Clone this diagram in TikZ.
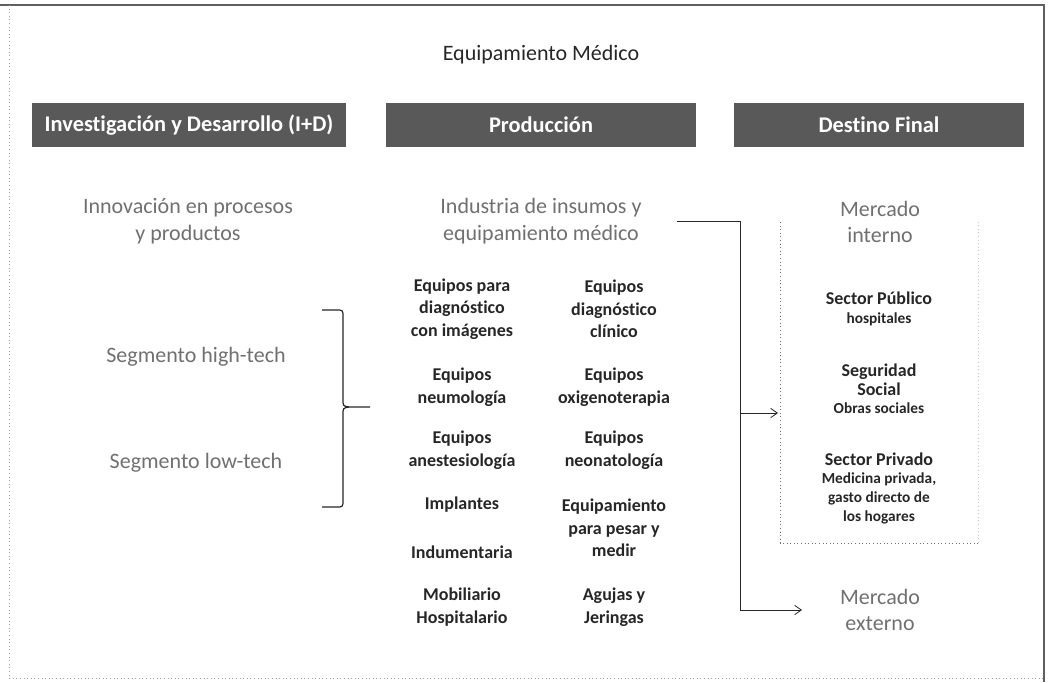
\documentclass[tikz,border=0pt]{standalone}
\usepackage{fontspec}
\setmainfont[Ligatures={NoCommon}]{Carlito}
\usetikzlibrary{arrows.meta, positioning}
\definecolor{barfill}{RGB}{89, 89, 89}
\definecolor{softgray}{RGB}{112, 112, 112}
\definecolor{inkdark}{RGB}{38, 38, 38}
\definecolor{framegray}{RGB}{95, 95, 95}

\begin{document}
\begin{tikzpicture}[x=0.75pt, y=-0.75pt,
  headbar/.style={fill=barfill, text=white, font=\fontsize{16.8}{19}\selectfont\bfseries, minimum height=33pt, inner sep=0pt},
  softtext/.style={text=softgray, font=\fontsize{16.5}{20}\selectfont, align=center},
  itemtext/.style={text=inkdark, font=\fontsize{13.5}{17}\selectfont\bfseries, align=center},
  sectortext/.style={text=inkdark, font=\fontsize{11.5}{14}\selectfont\bfseries, align=center},
  link/.style={draw=inkdark, line width=0.6pt, -{Straight Barb[length=5pt, width=7pt]}}]

  \useasboundingbox (0, 0) rectangle (1049, 682);

  % Frame
  \draw[framegray, line width=1.3pt] (0, 5) -- (1044, 5) -- (1044, 682);
  \draw[framegray!60, dotted, line width=0.7pt] (9, 5) -- (9, 678) -- (1044, 678);

  % Title
  \node[text=inkdark, font=\fontsize{16.5}{20}\selectfont] (title) at (541, 55) {Equipamiento Médico};

  % Column headers
  \node[headbar, minimum width=235pt] (hdrid) at (189, 125) {Investigación y Desarrollo (I+D)};
  \node[headbar, minimum width=232pt] (hdrprod) at (541, 125) {Producción};
  \node[headbar, minimum width=217pt] (hdrdest) at (879, 125) {Destino Final};

  % Gray lead texts
  \node[softtext] (innov) at (188, 221) {Innovación en procesos\\y productos};
  \node[softtext] (indust) at (541, 221) {Industria de insumos y\\equipamiento médico};
  \node[softtext] (mint) at (880, 222) {Mercado\\interno};
  \node[softtext] (mext) at (880, 610) {Mercado\\externo};

  % Segments and bracket
  \node[softtext] (seghigh) at (196, 357) {Segmento high-tech};
  \node[softtext] (seglow) at (196, 463) {Segmento low-tech};
  \draw[inkdark, line width=0.9pt] (322, 310) -- (336, 310) .. controls (343, 310) .. (343, 317) -- (343, 399) .. controls (343, 406) .. (349, 407) -- (370, 407);
  \draw[inkdark, line width=0.9pt] (322, 507) -- (336, 507) .. controls (343, 507) .. (343, 500) -- (343, 415) .. controls (343, 408) .. (349, 407);

  % Product items
  \node[itemtext] (diagimg) at (462, 309) {Equipos para\\diagnóstico\\con imágenes};
  \node[itemtext] (diagclin) at (614, 309) {Equipos\\diagnóstico\\clínico};
  \node[itemtext] (neumo) at (462, 387) {Equipos\\neumología};
  \node[itemtext] (oxigeno) at (614, 387) {Equipos\\oxigenoterapia};
  \node[itemtext] (anest) at (462, 450) {Equipos\\anestesiología};
  \node[itemtext] (neonato) at (614, 450) {Equipos\\neonatología};
  \node[itemtext] (implant) at (462, 505) {Implantes};
  \node[itemtext] (pesar) at (614, 528) {Equipamiento\\para pesar y\\medir};
  \node[itemtext] (indum) at (462, 552) {Indumentaria};
  \node[itemtext] (mobil) at (462, 607) {Mobiliario\\Hospitalario};
  \node[itemtext] (agujas) at (614, 607) {Agujas y\\Jeringas};

  % Internal market box
  \draw[softgray, dotted, line width=0.7pt] (780, 222) -- (780, 543) -- (978, 543);
  \draw[softgray!40, dotted, line width=0.7pt] (978, 543) -- (978, 222);
  \node[sectortext] (publico) at (879, 309) {{\fontsize{13.5}{16}\selectfont Sector Público}\\hospitales};
  \node[sectortext] (seguridad) at (879, 389) {{\fontsize{13.5}{16}\selectfont Seguridad}\\{\fontsize{13.5}{16}\selectfont Social}\\Obras sociales};
  \node[sectortext] (privado) at (879, 488) {{\fontsize{13.5}{16}\selectfont Sector Privado}\\Medicina privada,\\gasto directo de\\los hogares};

  % Connectors
  \coordinate (trunk) at (740, 400);
  \coordinate (inttap) at (778, 413);
  \draw[link] ([xshift=23pt]indust.east) -| (trunk) |- ([xshift=-25pt]mext.west);
  \draw[link] (trunk |- inttap) -- (inttap);
\end{tikzpicture}
\end{document}
